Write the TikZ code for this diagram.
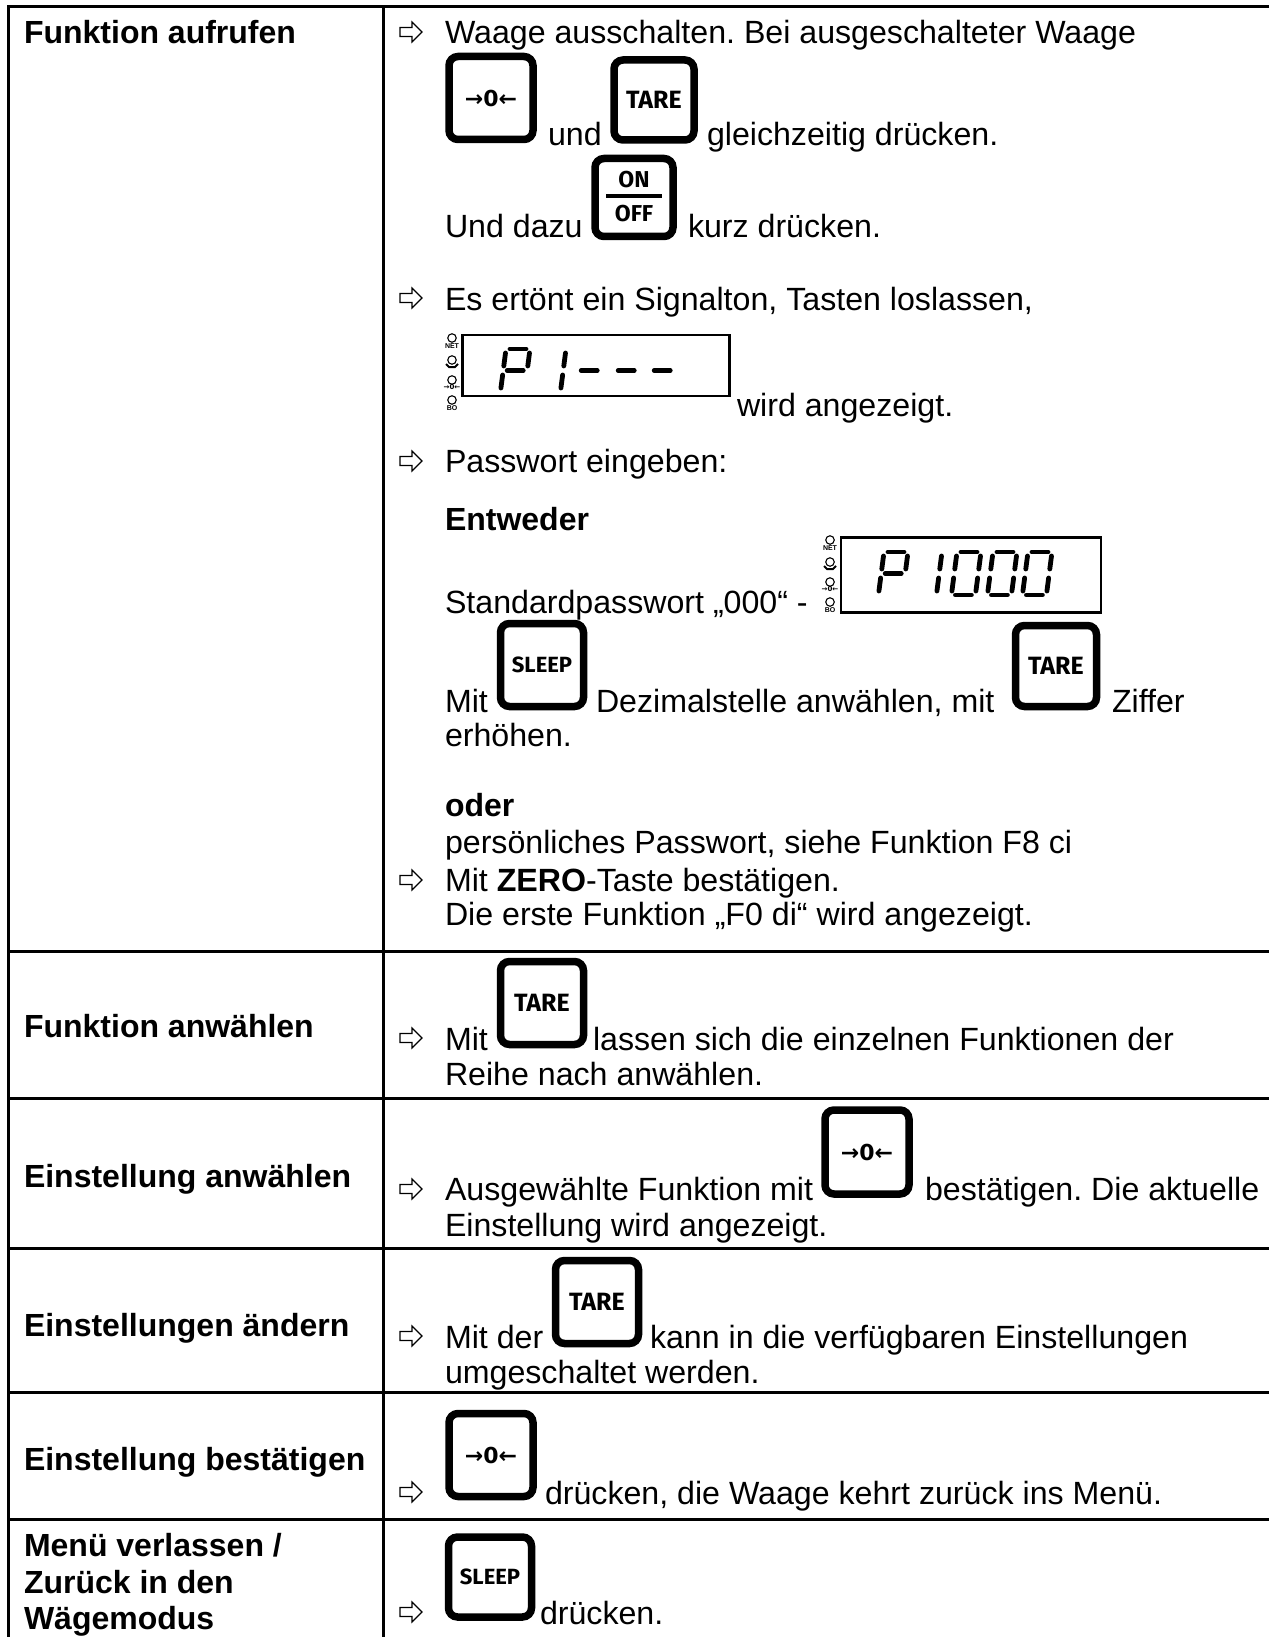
\documentclass[tikz,border=0pt]{standalone}
\usepackage{fontspec}
\setmainfont{Liberation Sans}
\newfontfamily\symfont{DejaVu Sans}
\newfontfamily\keyfont{Fira Sans}
\frenchspacing
\tikzset{
  x=1pt,y=-1pt,
  body/.style={anchor=base west,inner sep=0pt,outer sep=0pt,font=\fontsize{32.15}{36}\selectfont,text=black},
  head/.style={body,font=\fontsize{32}{36}\selectfont\bfseries},
  rule/.style={line width=3pt,black},
  keybox/.style={draw,line width=7.5pt,rounded corners=9pt,inner sep=0pt,outer sep=0pt,align=center,
     font=\keyfont\fontsize{25}{27}\selectfont\bfseries,minimum width=83pt,minimum height=83pt},
  sleepkey/.style={keybox,font=\keyfont\fontsize{22}{24}\selectfont\bfseries},
  zerokey/.style={keybox,font=\symfont\fontsize{22}{24}\selectfont\bfseries},
  keytext/.style={inner sep=0pt,font=\keyfont\fontsize{23}{25}\selectfont\bfseries},
  dispframe/.style={draw,line width=2.3pt,inner sep=0pt,outer sep=0pt},
  segline/.style={line width=4.8pt,line cap=round,black},
  lamp/.style={circle,draw,line width=1.1pt,inner sep=0pt,minimum size=8.5pt},
  tiny/.style={inner sep=0pt,font=\fontsize{7}{7}\selectfont\bfseries},
}
\newcommand{\outarrow}[2]{\draw[line width=1.1pt,black,line join=miter,shift={(#1,#2)}]
  (0,-4.5) -- (12,-4.5) -- (12,-10) -- (22,0) -- (12,10) -- (12,4.5) -- (0,4.5) -- cycle;}
\newcommand{\sega}{\draw[segline] (4,0) -- (20,0);}
\newcommand{\segb}{\draw[segline] (24,4) -- (24,17);}
\newcommand{\segc}{\draw[segline] (24,26) -- (24,39);}
\newcommand{\segd}{\draw[segline] (4,43) -- (20,43);}
\newcommand{\sege}{\draw[segline] (0,26) -- (0,39);}
\newcommand{\segf}{\draw[segline] (0,4) -- (0,17);}
\newcommand{\segg}{\draw[segline] (4,21.5) -- (20,21.5);}
\newcommand{\segdigit}[3]{\begin{scope}[shift={(#1,#2)},cm={1,0,0.13,1,(0,0)}]
  \foreach \s in {#3}{\csname seg\s\endcsname}\end{scope}}
\newcommand{\lamps}[2]{\begin{scope}[shift={(#1,#2)}]
  \node[lamp] at (0,5) {}; \node[tiny] at (0,13) {NET};
  \node[lamp] at (0,27) {}; \draw[line width=2pt] (-6,31) -- (-3,34) -- (3,34) -- (6,31);
  \node[lamp] at (0,47) {}; \node[tiny] at (0,54) {\symfont→0←};
  \node[lamp] at (0,67) {}; \node[tiny] at (0,75) {BO};
\end{scope}}
\begin{document}
\begin{tikzpicture}
\useasboundingbox (0,0) rectangle (1269,1637);
\coordinate (tl) at (8,7); \coordinate (tr) at (1269,7);
\coordinate (bl) at (8,1637); \coordinate (mt) at (383,7); \coordinate (mb) at (383,1637);
\draw[rule] (tr) -- (tl) -- (bl);
\draw[rule] (mt) -- (mb);
\foreach \yy in {951,1098,1248,1392,1519} \draw[rule] (8,\yy) -- (1269,\yy);
% left column
\node[head] (h1) at (24,44) {Funktion aufrufen};
\node[head] (h2) at (24,1037) {Funktion anwählen};
\node[head] (h3) at (24,1187) {Einstellung anwählen};
\node[head] (h4) at (24,1336) {Einstellungen ändern};
\node[head] (h5) at (24,1470) {Einstellung bestätigen};
\node[head] (h6a) at (24,1556) {Menü verlassen /};
\node[head] (h6b) at (24,1593) {Zurück in den};
\node[head] (h6c) at (24,1629) {Wägemodus};
% arrows
\outarrow{400}{32}
\outarrow{400}{298}
\outarrow{400}{461}
\outarrow{400}{880}
\outarrow{400}{1038}
\outarrow{400}{1189}
\outarrow{400}{1336}
\outarrow{400}{1492}
\outarrow{400}{1612}
% row 1
\node[body] (t1) at (445,44) {Waage ausschalten. Bei ausgeschalteter Waage};
\node[zerokey,minimum width=84pt,minimum height=83pt] (k1) at (491,98) {→0←};
\node[body] (t2) at (548,146) {und};
\node[keybox,minimum width=80pt,minimum height=80pt] (k2) at (654,100) {TARE};
\node[body] (t3) at (707,146) {gleichzeitig drücken.};
\node[body] (t4) at (445,238) {Und dazu};
\node[keybox,minimum width=78pt,minimum height=78pt] (k3) at (634,197.5) {};
\node[keytext] (kon) at (634,180) {ON};
\node[keytext] (koff) at (634,214) {OFF};
\coordinate (r1) at (606,196); \coordinate (r2) at (662,196);
\draw[line width=3.5pt] (r1) -- (r2);
\node[body] (t5) at (688,238) {kurz drücken.};
\node[body] (t6) at (445,310) {Es ertönt ein Signalton, Tasten loslassen,};
\node[dispframe,minimum width=267pt,minimum height=61pt] (d1) at (596,365.5) {};
\lamps{452}{333}
\segdigit{506}{349}{a,b,e,f,g}
\segdigit{542}{349}{b,c}
\segdigit{580}{349}{g}
\segdigit{617}{349}{g}
\segdigit{653}{349}{g}
\node[body] (t7) at (737,416) {wird angezeigt.};
\node[body] (t8) at (445,472) {Passwort eingeben:};
\node[head] (t9) at (445,530) {Entweder};
\node[body] (t10) at (445,613) {Standardpasswort „000“ -};
\node[dispframe,minimum width=260pt,minimum height=75pt] (d2) at (971,575) {};
\lamps{830}{535}
\segdigit{884}{552}{a,b,e,f,g}
\segdigit{918}{552}{b,c}
\segdigit{957}{552}{a,b,c,d,e,f}
\segdigit{993}{552}{a,b,c,d,e,f}
\segdigit{1028}{552}{a,b,c,d,e,f}
\node[body] (t11) at (445,712) {Mit};
\node[sleepkey] (k4) at (542,665) {SLEEP};
\node[body] (t12) at (596,712) {Dezimalstelle anwählen, mit};
\node[keybox,minimum width=81pt,minimum height=81pt] (k5) at (1056,666) {TARE};
\node[body] (t13) at (1112,712) {Ziffer};
\node[body] (t14) at (445,746) {erhöhen.};
\node[head] (t15) at (445,816) {oder};
\node[body] (t16) at (445,853) {persönliches Passwort, siehe Funktion F8 ci};
\node[body] (t17a) at (445,891) {Mit \textbf{ZERO}-Taste bestätigen.};
\node[body] (t17b) at (445,925) {Die erste Funktion „F0 di“ wird angezeigt.};
% row 2
\node[body] (t20) at (445,1050) {Mit};
\node[keybox] (k6) at (542,1003) {TARE};
\node[body] (t21) at (593,1050) {lassen sich die einzelnen Funktionen der};
\node[body] (t22) at (445,1085) {Reihe nach anwählen.};
% row 3
\node[body] (t30) at (445,1200) {Ausgewählte Funktion mit};
\node[zerokey,minimum width=84pt,minimum height=84pt] (k7) at (867,1152) {→0←};
\node[body] (t31) at (925,1200) {bestätigen. Die aktuelle};
\node[body] (t32) at (445,1236) {Einstellung wird angezeigt.};
% row 4
\node[body] (t40) at (445,1348) {Mit der};
\node[keybox] (k8) at (597,1302) {TARE};
\node[body] (t41) at (650,1348) {kann in die verfügbaren Einstellungen};
\node[body] (t42) at (445,1383) {umgeschaltet werden.};
% row 5
\node[zerokey,minimum width=84pt,minimum height=83pt] (k9) at (491,1455) {→0←};
\node[body] (t50) at (545,1504) {drücken, die Waage kehrt zurück ins Menü.};
% row 6
\node[sleepkey,minimum height=80pt] (k10) at (490,1577) {SLEEP};
\node[body] (t60) at (540,1624) {drücken.};
\end{tikzpicture}
\end{document}
